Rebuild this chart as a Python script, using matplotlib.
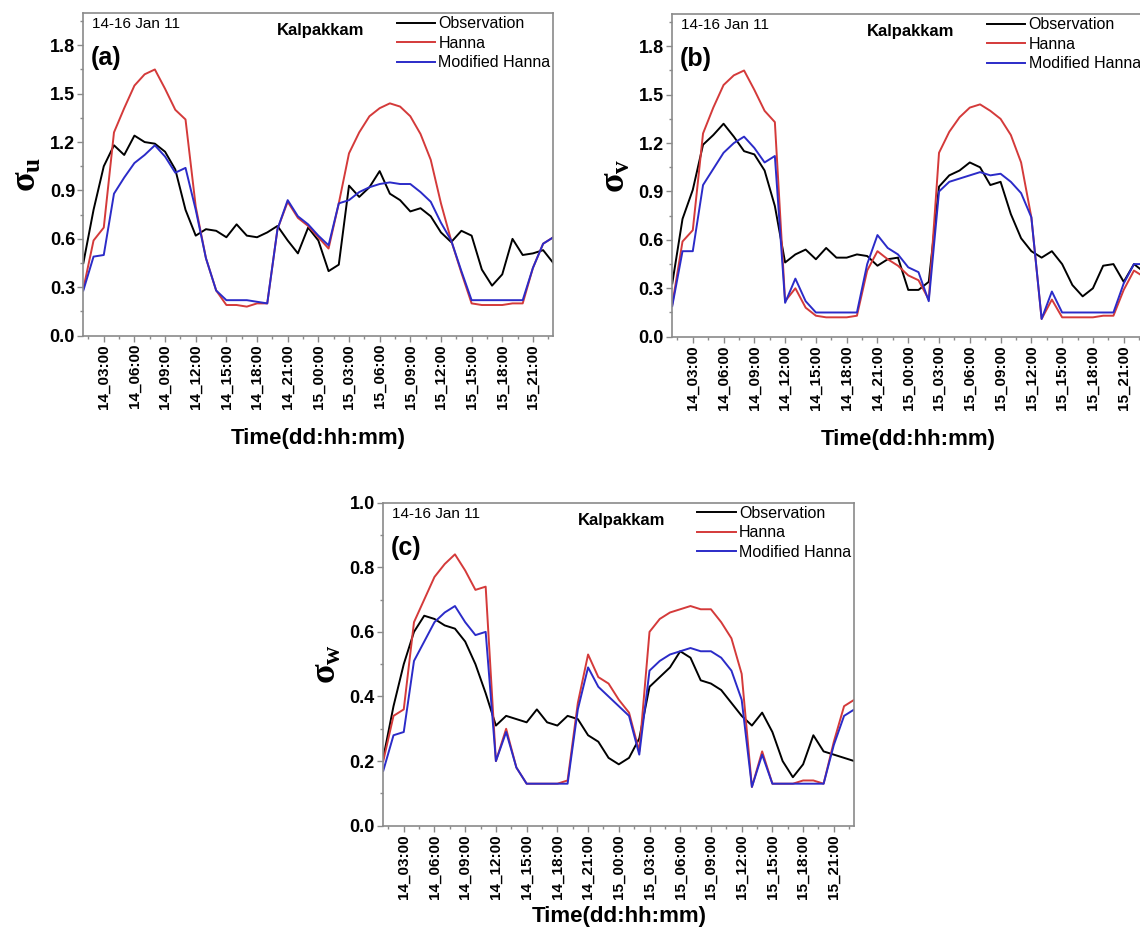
import matplotlib
matplotlib.use('Agg')
import matplotlib.pyplot as plt
from matplotlib.ticker import MultipleLocator, FixedLocator
import numpy as np

plt.rcParams['font.family'] = ['Liberation Sans', 'DejaVu Sans']
plt.rcParams['mathtext.fontset'] = 'custom'
plt.rcParams['mathtext.bf'] = 'Liberation Serif:bold'
plt.rcParams['mathtext.rm'] = 'Liberation Serif:bold'

# hourly samples, hour 1 = 14_01:00 ... hour 47 = 15_23:00
hours = np.arange(1, 48)
tick_hours = [3, 6, 9, 12, 15, 18, 21, 24, 27, 30, 33, 36, 39, 42, 45]
tick_labels = ['14_03:00', '14_06:00', '14_09:00', '14_12:00', '14_15:00',
               '14_18:00', '14_21:00', '15_00:00', '15_03:00', '15_06:00',
               '15_09:00', '15_12:00', '15_15:00', '15_18:00', '15_21:00']
uv_ticks = [0.0, 0.3, 0.6, 0.9, 1.2, 1.5, 1.8]
w_ticks = [0.0, 0.2, 0.4, 0.6, 0.8, 1.0]

# (a) sigma_u
a_obs = [0.45, 0.78, 1.05, 1.18, 1.12, 1.24, 1.20, 1.19, 1.14, 1.03,
         0.78, 0.62, 0.66, 0.65, 0.61, 0.69, 0.62, 0.61, 0.64, 0.68,
         0.59, 0.51, 0.67, 0.59, 0.40, 0.44, 0.93, 0.86, 0.92, 1.02,
         0.88, 0.84, 0.77, 0.79, 0.74, 0.64, 0.58, 0.65, 0.62, 0.41,
         0.31, 0.38, 0.60, 0.50, 0.51, 0.53, 0.45]
a_hanna = [0.29, 0.59, 0.67, 1.26, 1.41, 1.55, 1.62, 1.65, 1.53, 1.40,
           1.34, 0.80, 0.48, 0.28, 0.19, 0.19, 0.18, 0.20, 0.20, 0.66,
           0.83, 0.73, 0.68, 0.61, 0.54, 0.82, 1.13, 1.26, 1.36, 1.41,
           1.44, 1.42, 1.36, 1.25, 1.09, 0.82, 0.59, 0.39, 0.20, 0.19,
           0.19, 0.19, 0.20, 0.20, 0.42, 0.57, 0.61]
a_mod = [0.28, 0.49, 0.50, 0.88, 0.98, 1.07, 1.12, 1.18, 1.11, 1.01,
         1.04, 0.78, 0.48, 0.28, 0.22, 0.22, 0.22, 0.21, 0.20, 0.66,
         0.84, 0.74, 0.69, 0.62, 0.56, 0.82, 0.84, 0.89, 0.92, 0.94,
         0.95, 0.94, 0.94, 0.89, 0.83, 0.70, 0.59, 0.40, 0.22, 0.22,
         0.22, 0.22, 0.22, 0.22, 0.42, 0.57, 0.61]

# (b) sigma_v
b_obs = [0.33, 0.73, 0.91, 1.19, 1.25, 1.32, 1.24, 1.15, 1.13, 1.03,
         0.81, 0.46, 0.51, 0.54, 0.48, 0.55, 0.49, 0.49, 0.51, 0.50,
         0.44, 0.48, 0.49, 0.29, 0.29, 0.34, 0.93, 1.00, 1.03, 1.08,
         1.05, 0.94, 0.96, 0.76, 0.61, 0.53, 0.49, 0.53, 0.45, 0.32,
         0.25, 0.30, 0.44, 0.45, 0.34, 0.45, 0.40]
b_hanna = [0.20, 0.59, 0.66, 1.26, 1.42, 1.56, 1.62, 1.65, 1.53, 1.40,
           1.33, 0.22, 0.30, 0.18, 0.13, 0.12, 0.12, 0.12, 0.13, 0.41,
           0.53, 0.48, 0.44, 0.38, 0.35, 0.23, 1.14, 1.27, 1.36, 1.42,
           1.44, 1.40, 1.35, 1.25, 1.08, 0.74, 0.11, 0.23, 0.12, 0.12,
           0.12, 0.12, 0.13, 0.13, 0.29, 0.41, 0.37]
b_mod = [0.19, 0.53, 0.53, 0.94, 1.04, 1.14, 1.20, 1.24, 1.17, 1.08,
         1.12, 0.21, 0.36, 0.22, 0.15, 0.15, 0.15, 0.15, 0.15, 0.45,
         0.63, 0.55, 0.51, 0.43, 0.40, 0.22, 0.90, 0.96, 0.98, 1.00,
         1.02, 1.00, 1.01, 0.96, 0.89, 0.74, 0.11, 0.28, 0.15, 0.15,
         0.15, 0.15, 0.15, 0.15, 0.33, 0.45, 0.45]

# (c) sigma_w
c_obs = [0.21, 0.37, 0.50, 0.60, 0.65, 0.64, 0.62, 0.61, 0.57, 0.50,
         0.41, 0.31, 0.34, 0.33, 0.32, 0.36, 0.32, 0.31, 0.34, 0.33,
         0.28, 0.26, 0.21, 0.19, 0.21, 0.27, 0.43, 0.46, 0.49, 0.54,
         0.52, 0.45, 0.44, 0.42, 0.38, 0.34, 0.31, 0.35, 0.29, 0.20,
         0.15, 0.19, 0.28, 0.23, 0.22, 0.21, 0.20]
c_hanna = [0.20, 0.34, 0.36, 0.63, 0.70, 0.77, 0.81, 0.84, 0.79, 0.73,
           0.74, 0.20, 0.30, 0.18, 0.13, 0.13, 0.13, 0.13, 0.14, 0.38,
           0.53, 0.46, 0.44, 0.39, 0.35, 0.23, 0.60, 0.64, 0.66, 0.67,
           0.68, 0.67, 0.67, 0.63, 0.58, 0.47, 0.12, 0.23, 0.13, 0.13,
           0.13, 0.14, 0.14, 0.13, 0.26, 0.37, 0.39]
c_mod = [0.17, 0.28, 0.29, 0.51, 0.57, 0.63, 0.66, 0.68, 0.63, 0.59,
         0.60, 0.20, 0.29, 0.18, 0.13, 0.13, 0.13, 0.13, 0.13, 0.36,
         0.49, 0.43, 0.40, 0.37, 0.34, 0.22, 0.48, 0.51, 0.53, 0.54,
         0.55, 0.54, 0.54, 0.52, 0.48, 0.39, 0.12, 0.22, 0.13, 0.13,
         0.13, 0.13, 0.13, 0.13, 0.25, 0.34, 0.36]

series_names = ['Observation', 'Hanna', 'Modified Hanna']
colors = ['black', '#d43a3a', '#2b2bc8']
edge = '#8a8a8a'


def panel(ax, obs, hanna, mod, letter, ylab, ymax, yticks, xpad):
    for vals, name, c in zip([obs, hanna, mod], series_names, colors):
        ax.plot(hours, vals, color=c, lw=1.4, label=name)
    ax.set_xlim(1, 47)
    ax.set_ylim(0, ymax)
    ax.xaxis.set_major_locator(FixedLocator(tick_hours))
    ax.xaxis.set_minor_locator(MultipleLocator(1.5))
    ax.set_xticklabels(tick_labels, rotation=90, fontsize=11, fontweight='bold')
    step = yticks[1] - yticks[0]
    ax.set_yticks(yticks)
    ax.yaxis.set_minor_locator(MultipleLocator(step / 2))
    ax.set_yticklabels(['%.1f' % v for v in yticks], fontsize=13, fontweight='bold')
    ax.tick_params(which='major', direction='out', length=4, width=1, color=edge, pad=2)
    ax.tick_params(which='minor', direction='out', length=2.5, width=1, color=edge)
    for s in ax.spines.values():
        s.set_color(edge)
        s.set_linewidth(1.2)
    ax.set_xlabel('Time(dd:hh:mm)', fontsize=16, fontweight='bold', labelpad=xpad)
    ax.set_ylabel(ylab, fontsize=26, labelpad=4)
    ax.text(0.018, 0.966, '14-16 Jan 11', transform=ax.transAxes, fontsize=11,
            va='center', ha='left')
    ax.text(0.505, 0.945, 'Kalpakkam', transform=ax.transAxes, fontsize=12,
            fontweight='bold', va='center', ha='center')
    ax.text(0.016, 0.86, letter, transform=ax.transAxes, fontsize=18,
            fontweight='bold', va='center', ha='left')
    ax.legend(loc='upper left', bbox_to_anchor=(0.667, 0.99), frameon=False,
              fontsize=11.5, handlelength=2.4, handletextpad=0.2,
              labelspacing=0.28, borderpad=0, borderaxespad=0)


fig = plt.figure(figsize=(11.4, 9.35), dpi=100)
ax1 = fig.add_axes([0.0731, 0.641, 0.4123, 0.3451])
ax2 = fig.add_axes([0.5897, 0.6399, 0.4140, 0.3451])
ax3 = fig.add_axes([0.3362, 0.1169, 0.4132, 0.3455])

panel(ax1, a_obs, a_hanna, a_mod, '(a)', r'$\mathbf{σ_u}$', 2.0, uv_ticks, 14)
panel(ax2, b_obs, b_hanna, b_mod, '(b)', r'$\mathbf{σ_v}$', 2.0, uv_ticks, 14)
panel(ax3, c_obs, c_hanna, c_mod, '(c)', r'$\mathbf{σ_w}$', 1.0, w_ticks, 5)

fig.savefig('out.png', dpi=100)
